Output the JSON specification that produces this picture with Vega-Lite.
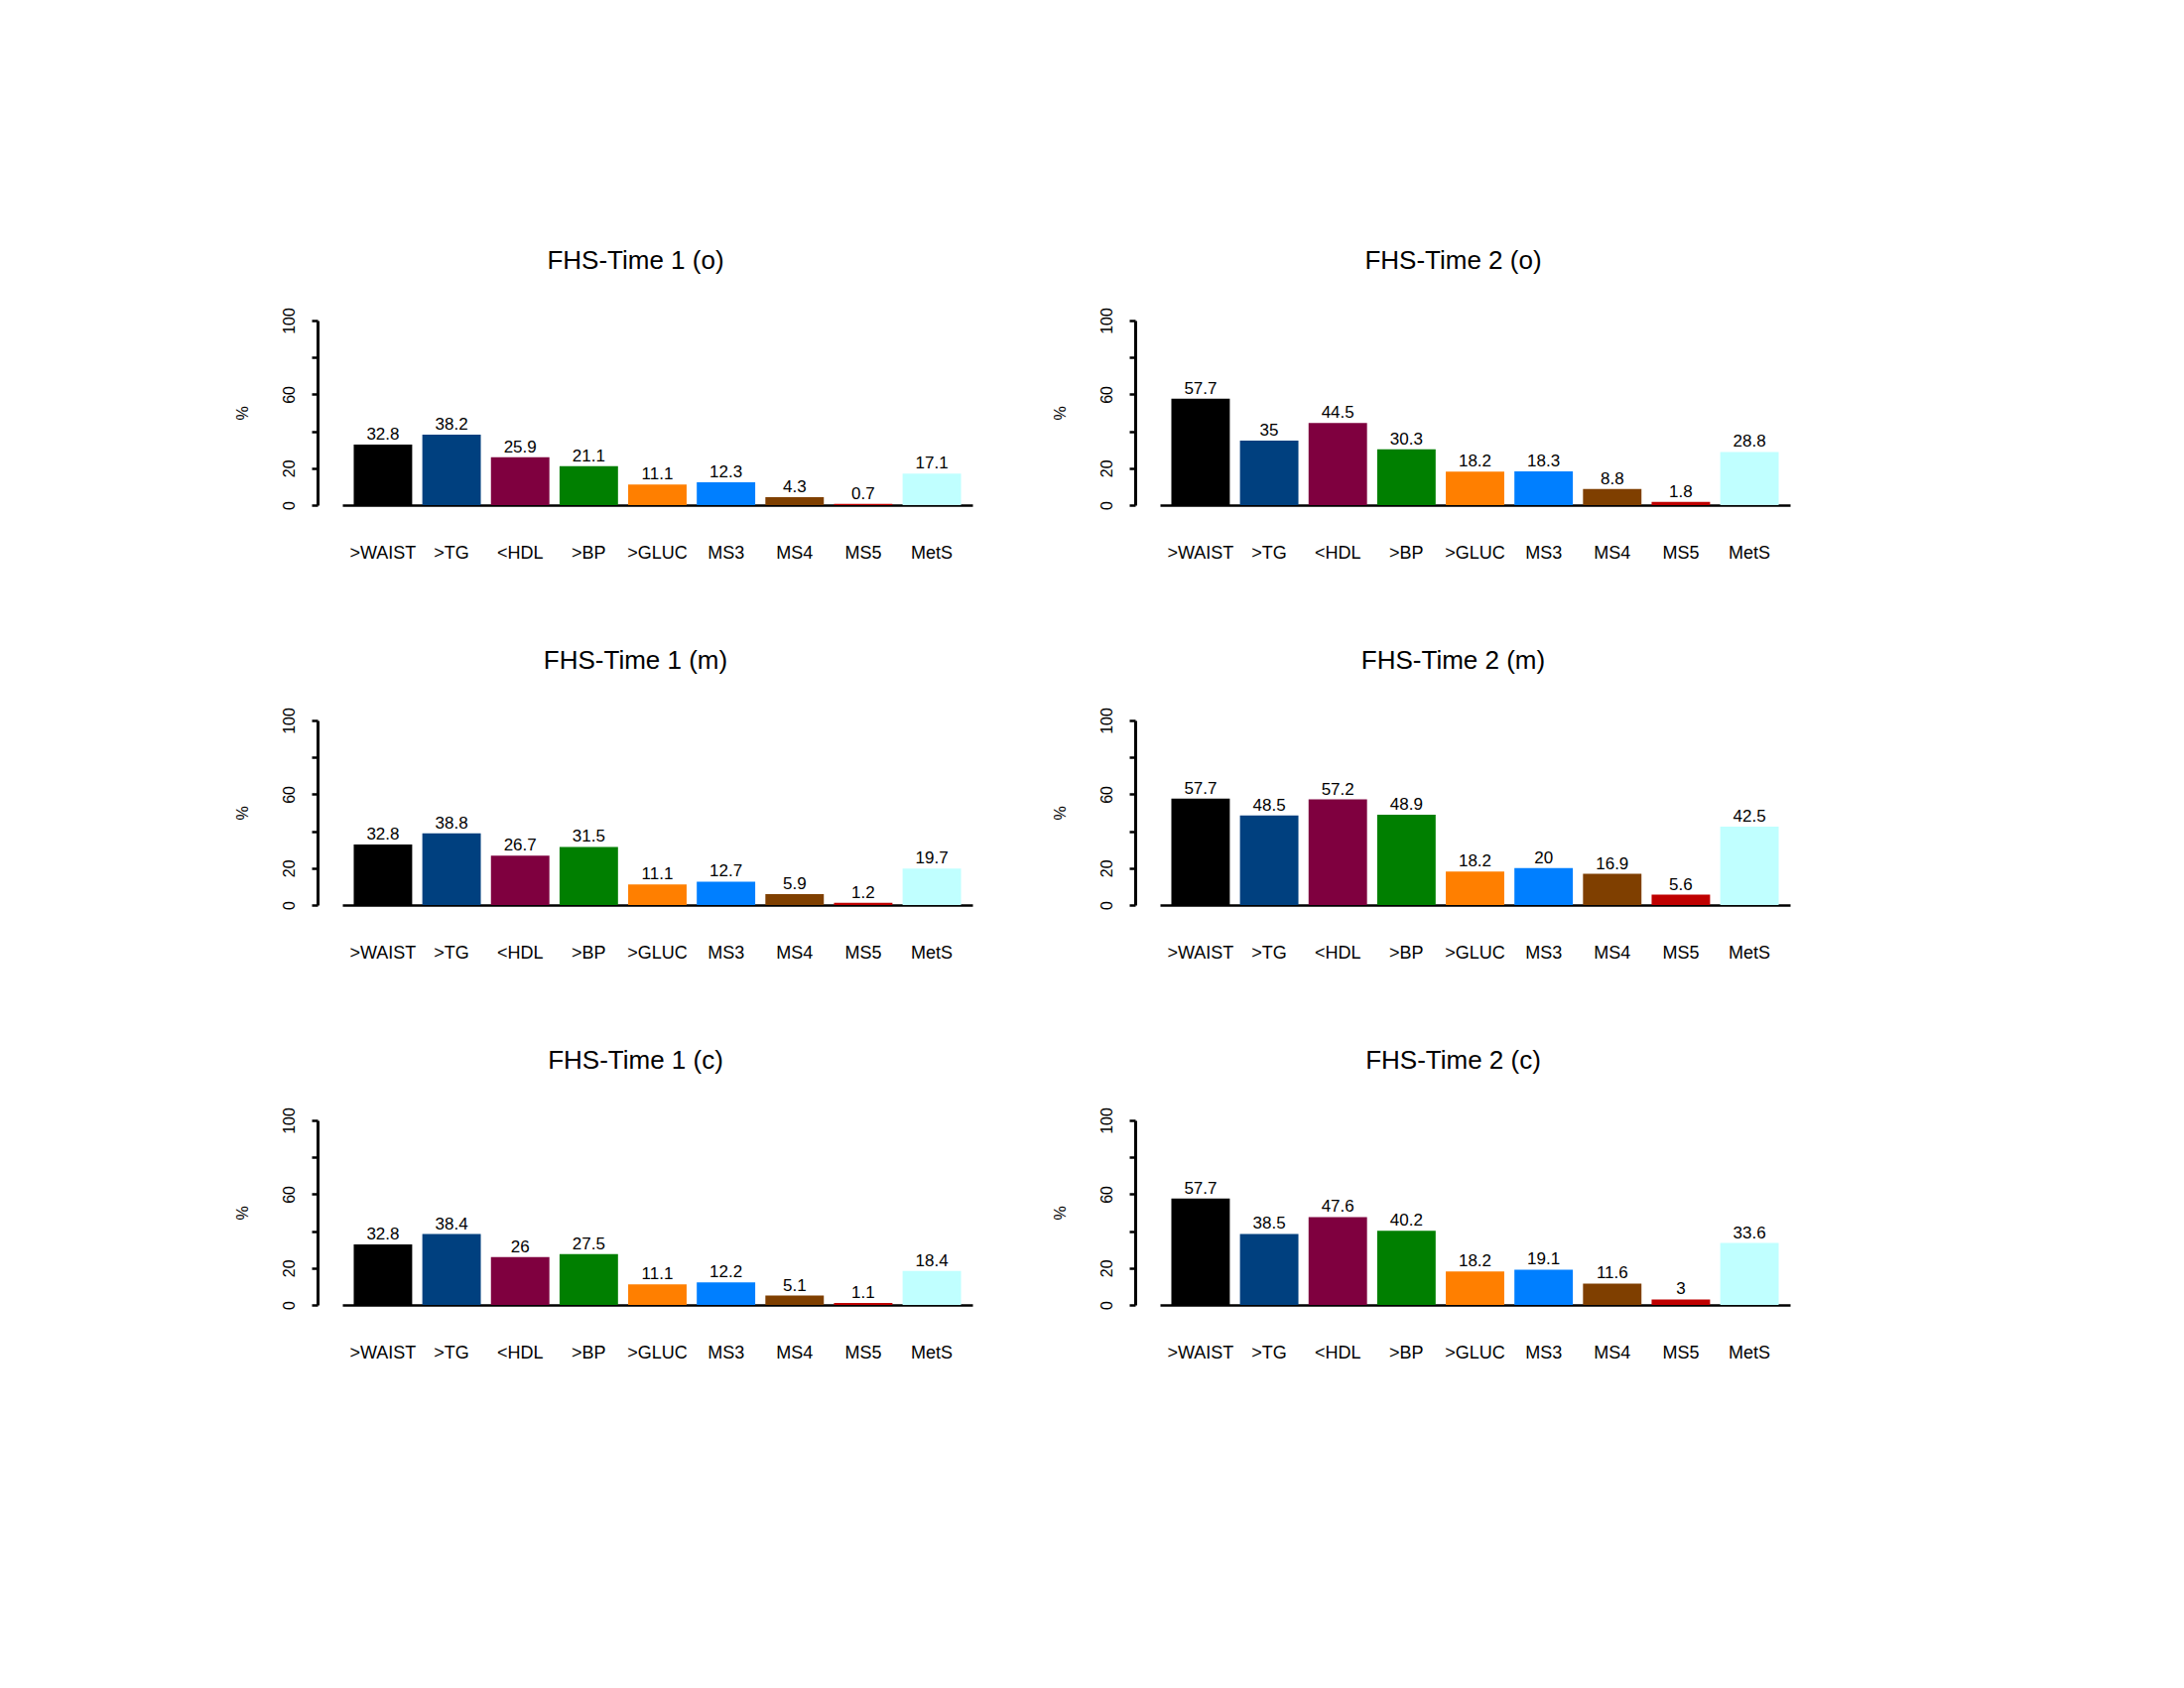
{
  "$schema": "https://vega.github.io/schema/vega-lite/v6.json",
  "padding": {"left": 236, "top": 249, "right": 5, "bottom": 5},
  "background": "white",
  "datasets": {
    "fhs": [
      {"panel": "T1o", "cat": ">WAIST", "pct": 32.8}, {"panel": "T1o", "cat": ">TG", "pct": 38.2}, {"panel": "T1o", "cat": "<HDL", "pct": 25.9},
      {"panel": "T1o", "cat": ">BP", "pct": 21.1}, {"panel": "T1o", "cat": ">GLUC", "pct": 11.1}, {"panel": "T1o", "cat": "MS3", "pct": 12.3},
      {"panel": "T1o", "cat": "MS4", "pct": 4.3}, {"panel": "T1o", "cat": "MS5", "pct": 0.7}, {"panel": "T1o", "cat": "MetS", "pct": 17.1},
      {"panel": "T2o", "cat": ">WAIST", "pct": 57.7}, {"panel": "T2o", "cat": ">TG", "pct": 35}, {"panel": "T2o", "cat": "<HDL", "pct": 44.5},
      {"panel": "T2o", "cat": ">BP", "pct": 30.3}, {"panel": "T2o", "cat": ">GLUC", "pct": 18.2}, {"panel": "T2o", "cat": "MS3", "pct": 18.3},
      {"panel": "T2o", "cat": "MS4", "pct": 8.8}, {"panel": "T2o", "cat": "MS5", "pct": 1.8}, {"panel": "T2o", "cat": "MetS", "pct": 28.8},
      {"panel": "T1m", "cat": ">WAIST", "pct": 32.8}, {"panel": "T1m", "cat": ">TG", "pct": 38.8}, {"panel": "T1m", "cat": "<HDL", "pct": 26.7},
      {"panel": "T1m", "cat": ">BP", "pct": 31.5}, {"panel": "T1m", "cat": ">GLUC", "pct": 11.1}, {"panel": "T1m", "cat": "MS3", "pct": 12.7},
      {"panel": "T1m", "cat": "MS4", "pct": 5.9}, {"panel": "T1m", "cat": "MS5", "pct": 1.2}, {"panel": "T1m", "cat": "MetS", "pct": 19.7},
      {"panel": "T2m", "cat": ">WAIST", "pct": 57.7}, {"panel": "T2m", "cat": ">TG", "pct": 48.5}, {"panel": "T2m", "cat": "<HDL", "pct": 57.2},
      {"panel": "T2m", "cat": ">BP", "pct": 48.9}, {"panel": "T2m", "cat": ">GLUC", "pct": 18.2}, {"panel": "T2m", "cat": "MS3", "pct": 20},
      {"panel": "T2m", "cat": "MS4", "pct": 16.9}, {"panel": "T2m", "cat": "MS5", "pct": 5.6}, {"panel": "T2m", "cat": "MetS", "pct": 42.5},
      {"panel": "T1c", "cat": ">WAIST", "pct": 32.8}, {"panel": "T1c", "cat": ">TG", "pct": 38.4}, {"panel": "T1c", "cat": "<HDL", "pct": 26},
      {"panel": "T1c", "cat": ">BP", "pct": 27.5}, {"panel": "T1c", "cat": ">GLUC", "pct": 11.1}, {"panel": "T1c", "cat": "MS3", "pct": 12.2},
      {"panel": "T1c", "cat": "MS4", "pct": 5.1}, {"panel": "T1c", "cat": "MS5", "pct": 1.1}, {"panel": "T1c", "cat": "MetS", "pct": 18.4},
      {"panel": "T2c", "cat": ">WAIST", "pct": 57.7}, {"panel": "T2c", "cat": ">TG", "pct": 38.5}, {"panel": "T2c", "cat": "<HDL", "pct": 47.6},
      {"panel": "T2c", "cat": ">BP", "pct": 40.2}, {"panel": "T2c", "cat": ">GLUC", "pct": 18.2}, {"panel": "T2c", "cat": "MS3", "pct": 19.1},
      {"panel": "T2c", "cat": "MS4", "pct": 11.6}, {"panel": "T2c", "cat": "MS5", "pct": 3}, {"panel": "T2c", "cat": "MetS", "pct": 33.6}
    ]
  },
  "columns": 2,
  "spacing": {"row": 86, "column": 80},
  "concat": [
    {
      "title": "FHS-Time 1 (o)",
      "data": {"name": "fhs"},
      "transform": [{"filter": "datum.panel == 'T1o'"}],
      "width": 635, "height": 186,
      "encoding": {
        "x": {"field": "cat", "type": "nominal", "sort": [">WAIST", ">TG", "<HDL", ">BP", ">GLUC", "MS3", "MS4", "MS5", "MetS"], "title": null},
        "y": {"field": "pct", "type": "quantitative", "title": "%", "scale": {"domain": [0, 100], "nice": false}}
      },
      "layer": [
        {"mark": "bar", "encoding": {"color": {"field": "cat", "type": "nominal", "legend": null, "scale": {"domain": [">WAIST", ">TG", "<HDL", ">BP", ">GLUC", "MS3", "MS4", "MS5", "MetS"], "range": ["#000000", "#00407F", "#7F003F", "#007F00", "#FF7F00", "#007FFF", "#7F3F00", "#BF0000", "#C0FFFF"]}}}},
        {"mark": {"type": "text", "baseline": "bottom", "dy": -1}, "encoding": {"text": {"field": "pct", "type": "nominal"}}}
      ]
    },
    {
      "title": "FHS-Time 2 (o)",
      "data": {"name": "fhs"},
      "transform": [{"filter": "datum.panel == 'T2o'"}],
      "width": 635, "height": 186,
      "encoding": {
        "x": {"field": "cat", "type": "nominal", "sort": [">WAIST", ">TG", "<HDL", ">BP", ">GLUC", "MS3", "MS4", "MS5", "MetS"], "title": null},
        "y": {"field": "pct", "type": "quantitative", "title": "%", "scale": {"domain": [0, 100], "nice": false}}
      },
      "layer": [
        {"mark": "bar", "encoding": {"color": {"field": "cat", "type": "nominal", "legend": null, "scale": {"domain": [">WAIST", ">TG", "<HDL", ">BP", ">GLUC", "MS3", "MS4", "MS5", "MetS"], "range": ["#000000", "#00407F", "#7F003F", "#007F00", "#FF7F00", "#007FFF", "#7F3F00", "#BF0000", "#C0FFFF"]}}}},
        {"mark": {"type": "text", "baseline": "bottom", "dy": -1}, "encoding": {"text": {"field": "pct", "type": "nominal"}}}
      ]
    },
    {
      "title": "FHS-Time 1 (m)",
      "data": {"name": "fhs"},
      "transform": [{"filter": "datum.panel == 'T1m'"}],
      "width": 635, "height": 186,
      "encoding": {
        "x": {"field": "cat", "type": "nominal", "sort": [">WAIST", ">TG", "<HDL", ">BP", ">GLUC", "MS3", "MS4", "MS5", "MetS"], "title": null},
        "y": {"field": "pct", "type": "quantitative", "title": "%", "scale": {"domain": [0, 100], "nice": false}}
      },
      "layer": [
        {"mark": "bar", "encoding": {"color": {"field": "cat", "type": "nominal", "legend": null, "scale": {"domain": [">WAIST", ">TG", "<HDL", ">BP", ">GLUC", "MS3", "MS4", "MS5", "MetS"], "range": ["#000000", "#00407F", "#7F003F", "#007F00", "#FF7F00", "#007FFF", "#7F3F00", "#BF0000", "#C0FFFF"]}}}},
        {"mark": {"type": "text", "baseline": "bottom", "dy": -1}, "encoding": {"text": {"field": "pct", "type": "nominal"}}}
      ]
    },
    {
      "title": "FHS-Time 2 (m)",
      "data": {"name": "fhs"},
      "transform": [{"filter": "datum.panel == 'T2m'"}],
      "width": 635, "height": 186,
      "encoding": {
        "x": {"field": "cat", "type": "nominal", "sort": [">WAIST", ">TG", "<HDL", ">BP", ">GLUC", "MS3", "MS4", "MS5", "MetS"], "title": null},
        "y": {"field": "pct", "type": "quantitative", "title": "%", "scale": {"domain": [0, 100], "nice": false}}
      },
      "layer": [
        {"mark": "bar", "encoding": {"color": {"field": "cat", "type": "nominal", "legend": null, "scale": {"domain": [">WAIST", ">TG", "<HDL", ">BP", ">GLUC", "MS3", "MS4", "MS5", "MetS"], "range": ["#000000", "#00407F", "#7F003F", "#007F00", "#FF7F00", "#007FFF", "#7F3F00", "#BF0000", "#C0FFFF"]}}}},
        {"mark": {"type": "text", "baseline": "bottom", "dy": -1}, "encoding": {"text": {"field": "pct", "type": "nominal"}}}
      ]
    },
    {
      "title": "FHS-Time 1 (c)",
      "data": {"name": "fhs"},
      "transform": [{"filter": "datum.panel == 'T1c'"}],
      "width": 635, "height": 186,
      "encoding": {
        "x": {"field": "cat", "type": "nominal", "sort": [">WAIST", ">TG", "<HDL", ">BP", ">GLUC", "MS3", "MS4", "MS5", "MetS"], "title": null},
        "y": {"field": "pct", "type": "quantitative", "title": "%", "scale": {"domain": [0, 100], "nice": false}}
      },
      "layer": [
        {"mark": "bar", "encoding": {"color": {"field": "cat", "type": "nominal", "legend": null, "scale": {"domain": [">WAIST", ">TG", "<HDL", ">BP", ">GLUC", "MS3", "MS4", "MS5", "MetS"], "range": ["#000000", "#00407F", "#7F003F", "#007F00", "#FF7F00", "#007FFF", "#7F3F00", "#BF0000", "#C0FFFF"]}}}},
        {"mark": {"type": "text", "baseline": "bottom", "dy": -1}, "encoding": {"text": {"field": "pct", "type": "nominal"}}}
      ]
    },
    {
      "title": "FHS-Time 2 (c)",
      "data": {"name": "fhs"},
      "transform": [{"filter": "datum.panel == 'T2c'"}],
      "width": 635, "height": 186,
      "encoding": {
        "x": {"field": "cat", "type": "nominal", "sort": [">WAIST", ">TG", "<HDL", ">BP", ">GLUC", "MS3", "MS4", "MS5", "MetS"], "title": null},
        "y": {"field": "pct", "type": "quantitative", "title": "%", "scale": {"domain": [0, 100], "nice": false}}
      },
      "layer": [
        {"mark": "bar", "encoding": {"color": {"field": "cat", "type": "nominal", "legend": null, "scale": {"domain": [">WAIST", ">TG", "<HDL", ">BP", ">GLUC", "MS3", "MS4", "MS5", "MetS"], "range": ["#000000", "#00407F", "#7F003F", "#007F00", "#FF7F00", "#007FFF", "#7F3F00", "#BF0000", "#C0FFFF"]}}}},
        {"mark": {"type": "text", "baseline": "bottom", "dy": -1}, "encoding": {"text": {"field": "pct", "type": "nominal"}}}
      ]
    }
  ],
  "config": {
    "font": "Liberation Sans, Arial",
    "view": {"stroke": null},
    "title": {"fontSize": 26, "fontWeight": "normal", "color": "black", "anchor": "middle", "baseline": "bottom", "offset": 34, "dx": -22},
    "scale": {"bandPaddingInner": 0.148, "bandPaddingOuter": 0.166},
    "text": {"fontSize": 17, "color": "black"},
    "axis": {"grid": false, "domainColor": "black", "tickColor": "black", "labelColor": "black", "titleColor": "black"},
    "axisX": {"ticks": false, "labelAngle": 0, "labelPadding": 39, "labelBaseline": "top", "labelFontSize": 18, "domainWidth": 2.7},
    "axisY": {
      "offset": 25, "values": [0, 20, 40, 60, 80, 100], "labelExpr": "datum.value == 40 || datum.value == 80 ? '' : datum.label",
      "tickSize": 6, "tickWidth": 2.5, "domainWidth": 3, "labelAngle": -90, "labelAlign": "center", "labelBaseline": "bottom", "labelPadding": 15,
      "labelFontSize": 16, "labelOverlap": false, "labelBound": false, "labelFlush": false,
      "titleFontSize": 16, "titleFontWeight": "normal", "titleAngle": -90, "titleX": -76, "titleY": 93, "titleAlign": "center", "titleBaseline": "middle"
    }
  }
}
